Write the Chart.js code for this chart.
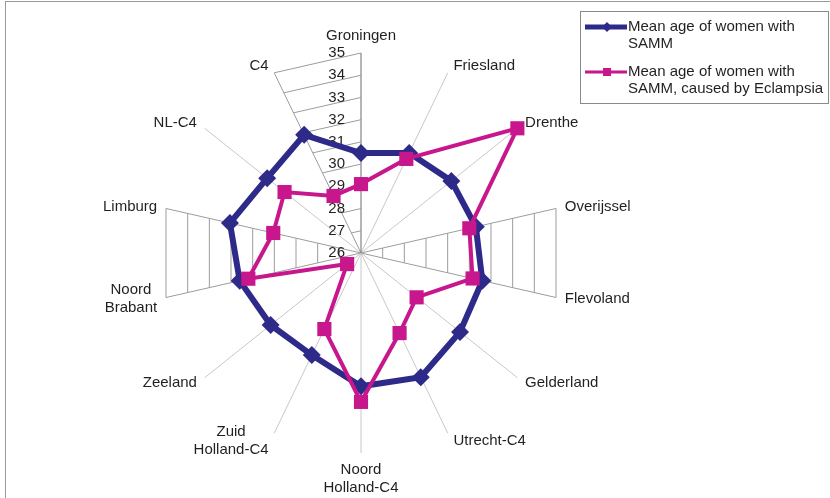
<!DOCTYPE html>
<html>
<head>
<meta charset="utf-8">
<script src="https://cdn.jsdelivr.net/npm/chart.js@4/dist/chart.umd.min.js"></script>
<style>
  body { margin: 0; background: #fff; overflow: hidden; }
  #frame { position: absolute; left: 5px; top: 1px; width: 900px; height: 600px;
           border-left: 1px solid #9a9a9a; border-top: 1px solid #9a9a9a; }
  #wrap { position: absolute; left: 0; top: 0; width: 830px; height: 498px; }
</style>
</head>
<body>
<div id="frame"></div>
<div id="wrap"><canvas id="radar" width="830" height="498"></canvas></div>
<script>
// provinces / regions, clockwise from the top
var regions = ['Groningen', 'Friesland', 'Drenthe', 'Overijssel', 'Flevoland', 'Gelderland',
  'Utrecht-C4', ['Noord', 'Holland-C4'], ['Zuid', 'Holland-C4'], 'Zeeland',
  ['Noord', 'Brabant'], 'Limburg', 'NL-C4', 'C4'];

var sammAge = [30.5, 31.0, 31.2, 31.3, 31.6, 31.7, 32.2, 32.0, 31.1, 31.2, 31.6, 32.05, 31.4, 31.9];
var eclampsiaAge = [29.1, 30.7, 35.0, 31.0, 31.15, 29.2, 30.0, 32.7, 29.8, 26.8, 31.2, 30.05, 30.4, 28.85];

var tickValues = [26, 27, 28, 29, 30, 31, 32, 33, 34, 35];

var FONT = "'Liberation Sans', Arial, Helvetica, sans-serif";
var TEXT = '#231f20';
var BLUE = '#2e2a8a';
var PINK = '#c8168c';

// the sectors where the old chart still shows its web lines
var webSectors = [[13, 0], [3, 4], [10, 11]];
var webAxes = [13, 0, 3, 4, 10, 11];

var decor = {
  id: 'decor',
  beforeDatasetsDraw: function(chart) {
    var ctx = chart.ctx, s = chart.scales.r;
    var top = tickValues[tickValues.length - 1];
    ctx.save();
    ctx.strokeStyle = '#9c9c9c';
    ctx.lineWidth = 1;
    webSectors.forEach(function(pair) {
      tickValues.forEach(function(v, k) {
        if (k === 0) return;
        var p = s.getPointPositionForValue(pair[0], v);
        var q = s.getPointPositionForValue(pair[1], v);
        ctx.beginPath(); ctx.moveTo(p.x, p.y); ctx.lineTo(q.x, q.y); ctx.stroke();
      });
    });
    // value axis labels, left of the Groningen axis
    ctx.fillStyle = TEXT;
    ctx.font = '15px ' + FONT;
    ctx.textAlign = 'right';
    ctx.textBaseline = 'middle';
    tickValues.forEach(function(v) {
      ctx.fillText(String(v), s.xCenter - 16, s.yCenter - s.getDistanceFromCenterForValue(v));
    });
    ctx.restore();
  },
  afterDraw: function(chart) {
    var ctx = chart.ctx, s = chart.scales.r;
    var n = regions.length, lh = 18;
    ctx.save();
    ctx.font = '15px ' + FONT;
    ctx.fillStyle = TEXT;
    ctx.textBaseline = 'middle';
    ctx.textAlign = 'center';
    // category labels
    for (var i = 0; i < n; i++) {
      var a = i * 2 * Math.PI / n;
      var sn = Math.sin(a), cs = Math.cos(a);
      var px = s.xCenter + s.drawingArea * sn;
      var py = s.yCenter - s.drawingArea * cs;
      var lines = [].concat(regions[i]);
      var w = Math.max.apply(null, lines.map(function(t) { return ctx.measureText(t).width; }));
      var h = lines.length * lh;
      var cx, cy;
      if (Math.abs(sn) < 0.01) {
        cx = px;
        cy = py - (cs > 0 ? 1 : -1) * (8 + h / 2);
      } else {
        var gap = 3 + 6 * Math.abs(sn);
        cx = sn > 0 ? px + gap + w / 2 : px - gap - w / 2;
        cy = py - cs * 8;
      }
      lines.forEach(function(t, k) {
        ctx.fillText(t, cx, cy - h / 2 + lh / 2 + k * lh);
      });
    }
    // legend box
    ctx.strokeStyle = '#8a8a8a';
    ctx.lineWidth = 1;
    ctx.strokeRect(580.5, 11.5, 248, 92);
    var items = [
      { ds: chart.data.datasets[1], y: 27, text: ['Mean age of women with', 'SAMM'] },
      { ds: chart.data.datasets[0], y: 72, text: ['Mean age of women with', 'SAMM, caused by Eclampsia'] }
    ];
    ctx.textAlign = 'left';
    items.forEach(function(it) {
      ctx.strokeStyle = it.ds.borderColor;
      ctx.lineWidth = it.ds.borderWidth - 1;
      ctx.beginPath(); ctx.moveTo(585, it.y); ctx.lineTo(627, it.y); ctx.stroke();
      ctx.fillStyle = it.ds.borderColor;
      ctx.beginPath();
      if (it.ds.pointStyle === 'rectRot') {
        ctx.moveTo(607, it.y - 5); ctx.lineTo(612, it.y); ctx.lineTo(607, it.y + 5); ctx.lineTo(602, it.y);
      } else {
        ctx.rect(603, it.y - 4, 8, 8);
      }
      ctx.fill();
      ctx.fillStyle = TEXT;
      it.text.forEach(function(t, k) { ctx.fillText(t, 628, it.y + k * 17); });
    });
    ctx.restore();
  }
};

new Chart(document.getElementById('radar'), {
  type: 'radar',
  data: {
    labels: regions,
    datasets: [
      {
        label: 'Mean age of women with SAMM, caused by Eclampsia',
        data: eclampsiaAge,
        borderColor: PINK,
        backgroundColor: PINK,
        borderWidth: 4,
        pointStyle: 'rect',
        pointRadius: 10,
        pointBorderWidth: 0,
        pointBackgroundColor: PINK,
        fill: false,
        order: 1
      },
      {
        label: 'Mean age of women with SAMM',
        data: sammAge,
        borderColor: BLUE,
        backgroundColor: BLUE,
        borderWidth: 6,
        pointStyle: 'rectRot',
        pointRadius: 9,
        pointBorderWidth: 0,
        pointBackgroundColor: BLUE,
        fill: false,
        order: 2
      }
    ]
  },
  options: {
    responsive: false,
    animation: false,
    plugins: { legend: { display: false }, tooltip: { enabled: false } },
    elements: { line: { tension: 0 } },
    scales: {
      r: {
        min: tickValues[0],
        max: tickValues[tickValues.length - 1],
        ticks: { display: false, stepSize: 1 },
        grid: { display: false },
        pointLabels: { display: false },
        angleLines: {
          display: true,
          lineWidth: 1,
          color: function(c) {
            if (c.index === 0) return '#6a6a6a';
            return webAxes.indexOf(c.index) >= 0 ? '#9c9c9c' : '#c8c8c8';
          }
        },
        afterFit: function(scale) {
          scale.xCenter = 361;
          scale.yCenter = 253;
          scale.drawingArea = 200;
        }
      }
    }
  },
  plugins: [decor]
});
</script>
</body>
</html>
